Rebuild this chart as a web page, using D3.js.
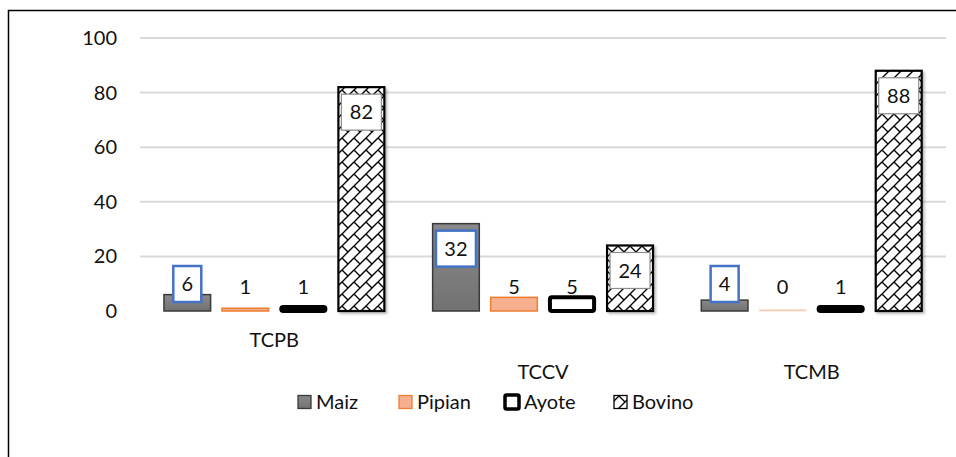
<!DOCTYPE html>
<html>
<head>
<meta charset="utf-8">
<script src="https://cdn.jsdelivr.net/npm/d3@7"></script>
<style>
  body { margin: 0; background: #fff; }
  svg { display: block; font-family: Lato, "Open Sans", sans-serif; }
</style>
</head>
<body>
<div id="chart"></div>
<script>
// data
var categories = ["TCPB", "TCCV", "TCMB"];
var tickLines = [["TCPB"], ["", "TCCV"], ["", "TCMB"]]; // excel staggers the last two
var series = ["Maiz", "Pipian", "Ayote", "Bovino"];
var maiz = [6, 32, 4];
var pipian = [1, 5, 0];
var ayote = [1, 5, 1];
var bovino = [82, 24, 88];
var yTicks = [0, 20, 40, 60, 80, 100];

var values = [maiz, pipian, ayote, bovino];

var W = 956, H = 457;
var plotLeft = 140, plotRight = 946, plotTop = 38, plotBottom = 311;

document.addEventListener('DOMContentLoaded', function () {
  draw();
}, false);

function draw() {
  var svg = d3.select("#chart").append("svg")
    .attr("width", W)
    .attr("height", H);

  // patterns / gradients
  var defs = svg.append("defs");
  var pat = defs.append("pattern")
    .attr("id", "brick")
    .attr("patternUnits", "userSpaceOnUse")
    .attr("width", 12).attr("height", 12);
  pat.append("rect").attr("width", 12).attr("height", 12).attr("fill", "#fff");
  pat.append("path")
    .attr("d", "M-1,13 L13,-1 M6,6 L12,12 M0,0 L0.5,0.5")
    .attr("stroke", "#000")
    .attr("stroke-width", 1.4)
    .attr("fill", "none");

  var grad = defs.append("linearGradient")
    .attr("id", "gray")
    .attr("x1", 0).attr("y1", 0).attr("x2", 0).attr("y2", 1);
  grad.append("stop").attr("offset", "0%").attr("stop-color", "#8a8a8a");
  grad.append("stop").attr("offset", "100%").attr("stop-color", "#727272");

  var sh = defs.append("filter").attr("id", "shadow")
    .attr("x", "-20%").attr("y", "-20%").attr("width", "150%").attr("height", "150%");
  sh.append("feDropShadow").attr("dx", 2).attr("dy", 2).attr("stdDeviation", 1.2)
    .attr("flood-color", "#000").attr("flood-opacity", 0.25);

  // outer border
  svg.append("rect")
    .attr("x", 8.5).attr("y", 10.5)
    .attr("width", 980).attr("height", 480)
    .attr("fill", "none")
    .attr("stroke", "#000")
    .attr("stroke-width", 1.5);

  var y = d3.scaleLinear().domain([0, 100]).range([plotBottom, plotTop]);
  var x0 = d3.scaleBand().domain(categories).range([plotLeft, plotRight]);
  var x1 = d3.scaleBand().domain(series).range([0, x0.bandwidth()])
    .paddingInner(0.17).paddingOuter(0.4);

  // gridlines
  svg.append("g").selectAll("line")
    .data(yTicks)
    .enter()
    .append("line")
    .attr("x1", plotLeft).attr("x2", plotRight)
    .attr("y1", function(d){ return y(d); })
    .attr("y2", function(d){ return y(d); })
    .attr("stroke", "#d9d9d9")
    .attr("stroke-width", function(d){ return d == 0 ? 2.5 : 2; })
    .attr("filter", function(d){ return d == 0 ? "url(#shadow)" : null; });

  // y labels
  svg.append("g").selectAll("text")
    .data(yTicks)
    .enter()
    .append("text")
    .attr("x", 117)
    .attr("y", function(d){ return y(d); })
    .attr("dy", "0.35em")
    .attr("text-anchor", "end")
    .attr("font-size", 20)
    .attr("fill", "#111")
    .text(function(d){ return d; });

  // x labels
  var xl = svg.append("g").selectAll("text")
    .data(categories)
    .enter()
    .append("text")
    .attr("text-anchor", "middle")
    .attr("font-size", 20)
    .attr("fill", "#111");
  xl.each(function(c, i) {
    var t = d3.select(this);
    tickLines[i].forEach(function(line, j) {
      t.append("tspan")
        .attr("x", x0(c) + x0.bandwidth() / 2)
        .attr("y", 347 + j * 32)
        .text(line);
    });
  });

  var styles = {
    Maiz:   { fill: "url(#gray)", stroke: "#3a3a3a", sw: 1.5 },
    Pipian: { fill: "#f6b08f", stroke: "#ed7d31", sw: 1.5 },
    Ayote:  { fill: "#fff", stroke: "#000", sw: 4 },
    Bovino: { fill: "url(#brick)", stroke: "#000", sw: 2.2 }
  };

  var rows = [];
  series.forEach(function(s, si) {
    categories.forEach(function(c, ci) {
      rows.push({ s: s, c: c, v: values[si][ci] });
    });
  });

  // bars
  svg.append("g").selectAll("rect")
    .data(rows)
    .enter()
    .append("rect")
    .attr("x", function(d){
      var sw = styles[d.s].sw;
      return x0(d.c) + x1(d.s) + sw / 2;
    })
    .attr("width", function(d){ return x1.bandwidth() - styles[d.s].sw; })
    .attr("y", function(d){
      var sw = styles[d.s].sw;
      return Math.min(y(d.v), y(0) - sw) ;
    })
    .attr("height", function(d){
      var h = y(0) - y(d.v);
      return Math.max(h, styles[d.s].sw);
    })
    .attr("rx", function(d){ return d.s == "Ayote" ? 2 : 0; })
    .attr("fill", function(d){ return styles[d.s].fill; })
    .attr("stroke", function(d){ return d.v == 0 && d.s == "Pipian" ? "#fbe3d6" : styles[d.s].stroke; })
    .attr("stroke-width", function(d){ return d.v == 0 ? 1 : styles[d.s].sw; })
    .attr("filter", function(d){ return d.s == "Bovino" ? "url(#shadow)" : null; });

  // data labels
  var lab = svg.append("g").selectAll("g")
    .data(rows)
    .enter()
    .append("g")
    .attr("transform", function(d){
      var cx = x0(d.c) + x1(d.s) + x1.bandwidth() / 2;
      var cy;
      if (d.s == "Maiz") cy = Math.min(y(d.v) + 25, y(0) - 27);
      else if (d.s == "Bovino") cy = y(d.v) + 25;
      else cy = Math.min(y(d.v) - 11, y(0) - 24);
      return "translate(" + cx + "," + cy + ")";
    });

  lab.filter(function(d){ return d.s == "Maiz" || d.s == "Bovino"; })
    .append("rect")
    .attr("x", function(d){ return d.s == "Maiz" ? (d.v >= 10 ? -20 : -14) : -20; })
    .attr("width", function(d){ return d.s == "Maiz" ? (d.v >= 10 ? 40 : 28) : 40; })
    .attr("y", -18)
    .attr("height", 36)
    .attr("fill", "#fff")
    .attr("stroke", function(d){ return d.s == "Maiz" ? "#4472c4" : "#8c8c8c"; })
    .attr("stroke-width", function(d){ return d.s == "Maiz" ? 2.5 : 1.2; });

  lab.append("text")
    .attr("text-anchor", "middle")
    .attr("dy", "0.36em")
    .attr("font-size", 20)
    .attr("fill", "#111")
    .text(function(d){ return d.v; });

  // legend
  var legX = [297, 398, 505, 613];
  var leg = svg.append("g").selectAll("g")
    .data(series)
    .enter()
    .append("g")
    .attr("transform", function(d, i){ return "translate(" + legX[i] + ",402)"; });

  leg.append("rect")
    .attr("x", function(d){ return d == "Ayote" ? 0 : 1; })
    .attr("y", function(d){ return d == "Ayote" ? -7 : -6.5; })
    .attr("width", function(d){ return d == "Ayote" ? 14 : 13; })
    .attr("height", function(d){ return d == "Ayote" ? 14 : 13; })
    .attr("rx", function(d){ return d == "Ayote" ? 1.5 : 0; })
    .attr("fill", function(d){ return styles[d].fill; })
    .attr("stroke", function(d){ return styles[d].stroke; })
    .attr("stroke-width", function(d){ return d == "Ayote" ? 3.5 : 1.3; });

  leg.append("text")
    .attr("x", 19)
    .attr("dy", "0.35em")
    .attr("font-size", 20)
    .attr("fill", "#111")
    .text(function(d){ return d; });
}
</script>
</body>
</html>
